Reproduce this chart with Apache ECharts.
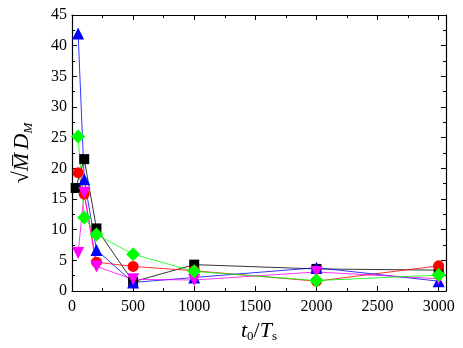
<!DOCTYPE html>
<html>
<head>
<meta charset="utf-8">
<script src="https://cdn.jsdelivr.net/npm/echarts@6/dist/echarts.min.js"></script>
<style>
html,body{margin:0;padding:0;background:#fff;}
#chart{width:463px;height:348px;}
</style>
</head>
<body>
<div id="chart"></div>
<script>
// 横坐标 t0/Ts
var xTicks = [0, 500, 1000, 1500, 2000, 2500, 3000]
var xBlack = [30, 100, 200, 500, 1000, 2000, 3000]
var xOther = [50, 100, 200, 500, 1000, 2000, 3000]
// 纵坐标 sqrt(M) D_M
var blackVals = [16.8, 21.5, 10.2, 1.5, 4.3, 3.6, 3.4]
var redVals = [19.3, 15.8, 4.7, 4.0, 3.3, 1.6, 4.1]
var blueVals = [42.0, 18.2, 6.7, 1.4, 2.2, 3.8, 1.6]
var magentaVals = [6.2, 16.0, 4.0, 1.9, 1.8, 3.1, 2.0]
var greenVals = [25.2, 12.0, 9.2, 6.0, 3.2, 1.7, 2.6]

function pairs(xs, ys){
  return xs.map(function(x, i){ return [x, ys[i]] })
}

var serif = 'Liberation Serif'
var tickRich = {t: {fontFamily: serif, fontSize: 16, color: '#000'}}
var xFmt = function(v){ return xTicks.indexOf(v) >= 0 ? '{t|' + v + '}' : '' }
var yFmt = function(v){ return '{t|' + v + '}' }

function mkSeries(name, xs, ys, color, symbol, size, rotate){
  return {
    name: name,
    type: 'line',
    data: pairs(xs, ys),
    symbol: symbol,
    symbolSize: size,
    symbolRotate: rotate || 0,
    showAllSymbol: true,
    lineStyle: {color: color, width: 0.8},
    itemStyle: {color: color},
    animation: false
  }
}

var axisCommon = {
  axisLine: {show: true, onZero: false, lineStyle: {color: '#000', width: 1.2}},
  axisTick: {show: true, inside: true, length: 5, lineStyle: {color: '#000', width: 1}},
  minorTick: {show: true, splitNumber: 2, length: 3, lineStyle: {color: '#000'}},
  splitLine: {show: false}
}

var myChart = echarts.init(document.getElementById('chart'))
var option = {
  animation: false,
  grid: {left: 72, top: 15, right: 17, bottom: 57, outerBoundsMode: 'none', containLabel: false},
  xAxis: [
    Object.assign({
      type: 'value', min: 0, max: 3060, interval: 500,
      axisLabel: {margin: 8, formatter: xFmt, rich: tickRich, showMaxLabel: false},
      name: '{i|t}{s|0}{n|/}{i|T}{s|s}',
      nameLocation: 'middle', nameGap: 21,
      nameTextStyle: {
        rich: {
          i: {fontFamily: serif, fontStyle: 'italic', fontSize: 22, color: '#000'},
          n: {fontFamily: serif, fontSize: 22, color: '#000'},
          s: {fontFamily: serif, fontSize: 13, color: '#000', verticalAlign: 'bottom', padding: [12, 0, 0, 0]}
        }
      }
    }, axisCommon),
    Object.assign({
      type: 'value', position: 'top', min: 0, max: 3060, interval: 500,
      axisLabel: {show: false}
    }, axisCommon)
  ],
  yAxis: [
    Object.assign({
      type: 'value', min: 0, max: 45, interval: 5,
      axisLabel: {margin: 5, formatter: yFmt, rich: tickRich},
      name: '{n|√}{i|M\u0305} {i|D}{s|M}',
      nameLocation: 'middle', nameGap: 37, nameRotate: 90,
      nameTextStyle: {
        rich: {
          i: {fontFamily: serif, fontStyle: 'italic', fontSize: 22, color: '#000'},
          n: {fontFamily: serif, fontSize: 22, color: '#000'},
          s: {fontFamily: serif, fontStyle: 'italic', fontSize: 13, color: '#000', padding: [12, 0, 0, 0]}
        }
      }
    }, axisCommon),
    Object.assign({
      type: 'value', position: 'right', min: 0, max: 45, interval: 5,
      axisLabel: {show: false}
    }, axisCommon)
  ],
  series: [
    mkSeries('black', xBlack, blackVals, '#000000', 'rect', 10),
    mkSeries('red', xOther, redVals, '#ff0000', 'circle', 11),
    mkSeries('blue', xOther, blueVals, '#0000ff', 'triangle', 12),
    mkSeries('magenta', xOther, magentaVals, '#ff00ff', 'triangle', 12, 180),
    mkSeries('green', xOther, greenVals, '#00ff00', 'diamond', 14)
  ]
}
myChart.setOption(option)
</script>
</body>
</html>
